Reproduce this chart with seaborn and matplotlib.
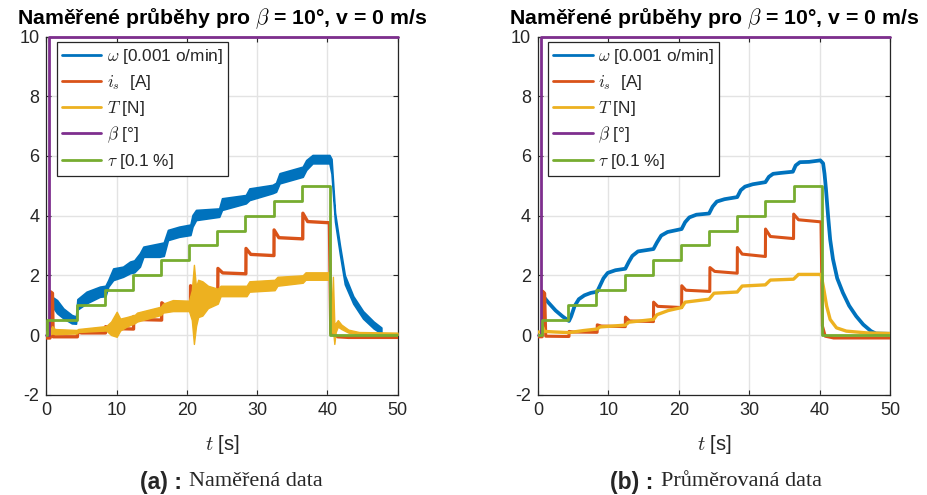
import matplotlib
matplotlib.use("Agg")
import matplotlib.pyplot as plt
from matplotlib.lines import Line2D
import seaborn as sns
import numpy as np

# ---------------- data ----------------
# tau (green) step levels and step times
tau_levels = [0, 0.5, 1.0, 1.5, 2.0, 2.5, 3.0, 3.5, 4.0, 4.5, 5.0, 0, 0]
tau_t_a = [0, 0.05, 4.3, 8.3, 12.3, 16.3, 20.3, 24.3, 28.3, 32.4, 36.4, 40.4, 50]
tau_t_b = [0, 0.5, 4.3, 8.3, 12.3, 16.3, 20.3, 24.3, 28.3, 32.3, 36.3, 40.3, 50]

# beta (purple)
beta_t_a = [0, 0.35, 0.35, 50]
beta_t_b = [0, 0.45, 0.45, 50]
beta_v = [0, 0, 10, 10]

# omega (blue), panel (a): noisy band -> upper / lower envelope
w_t_a = [1.0, 1.5, 2.4, 3.6, 4.2, 4.4, 5.7, 7.6, 8.4, 8.8, 9.5, 10.9, 11.9, 12.5, 13.3,
         13.8, 16.1, 16.7, 17.3, 18.9, 20.5, 20.8, 21.3, 24.6, 25.0, 28.4, 28.9, 32.2,
         32.7, 33.2, 36.5, 37.0, 37.9, 40.3, 40.6, 41.1, 41.8, 42.5, 43.7, 45.1, 46.6, 47.7]
w_hi_a = [1.25, 1.17, 0.89, 0.67, 0.62, 1.2, 1.45, 1.62, 1.65, 1.84, 2.23, 2.29, 2.46, 2.5,
          2.74, 2.96, 3.07, 3.1, 3.52, 3.63, 3.7, 4.02, 4.19, 4.24, 4.58, 4.69, 4.91, 5.03,
          5.1, 5.42, 5.64, 5.86, 6.03, 6.03, 5.9, 4.1, 3.0, 2.0, 1.3, 0.8, 0.45, 0.25]
w_lo_a = [0.9, 0.73, 0.56, 0.39, 0.38, 0.85, 1.06, 1.28, 1.3, 1.62, 1.84, 1.95, 2.07, 2.1,
          2.29, 2.62, 2.62, 2.65, 3.18, 3.29, 3.35, 3.63, 3.85, 3.96, 4.19, 4.41, 4.52, 4.75,
          4.8, 5.08, 5.3, 5.53, 5.75, 5.75, 5.4, 3.8, 2.7, 1.7, 1.05, 0.55, 0.22, 0.05]

# omega (blue), panel (b): averaged
w_t_b = [0.9, 1.5, 2.5, 3.5, 4.4, 4.7, 5.2, 5.8, 6.6, 7.5, 8.4, 8.8, 9.3, 9.9, 11.0, 12.4,
         12.9, 13.4, 14.2, 16.4, 16.9, 17.5, 18.4, 20.4, 20.9, 21.5, 22.5, 24.3, 24.8, 25.4,
         26.5, 28.3, 28.8, 29.4, 30.5, 32.3, 32.8, 33.4, 34.5, 36.2, 36.6, 37.2, 38.5, 40.1,
         40.5, 40.7, 40.9, 41.2, 41.5, 41.9, 42.5, 43.3, 44.2, 45.2, 46.2, 47.3, 48.0, 50.0]
w_v_b = [1.25, 1.08, 0.82, 0.62, 0.47, 0.62, 0.97, 1.2, 1.33, 1.41, 1.45, 1.65, 1.9, 2.08,
         2.17, 2.22, 2.45, 2.65, 2.8, 2.88, 3.1, 3.33, 3.45, 3.55, 3.78, 3.94, 4.03, 4.07,
         4.3, 4.47, 4.55, 4.62, 4.85, 4.97, 5.05, 5.12, 5.3, 5.4, 5.43, 5.47, 5.68, 5.79,
         5.8, 5.85, 5.75, 5.4, 4.9, 4.0, 3.2, 2.54, 1.9, 1.42, 0.98, 0.63, 0.35, 0.13, 0.05,
         0.04]

# i_s (red)
is_t_a = [0, 0.5, 0.55, 0.85, 0.95, 4.4, 4.42, 5.0, 8.4, 8.42, 9.0, 12.4, 12.42, 13.0, 16.4,
          16.42, 17.0, 20.5, 20.52, 21.1, 24.4, 24.42, 25.1, 28.4, 28.42, 29.1, 32.4, 32.42,
          33.1, 36.5, 36.52, 37.2, 40.3, 40.5, 41.5, 43.0, 50.0]
is_v_a = [-0.1, -0.1, 1.45, 1.4, -0.06, -0.06, 0.1, 0.07, 0.07, 0.28, 0.22, 0.2, 0.62, 0.52,
          0.5, 1.08, 0.97, 0.93, 1.65, 1.52, 1.48, 2.23, 2.08, 2.05, 2.9, 2.7, 2.66, 3.52,
          3.26, 3.22, 4.08, 3.8, 3.76, 0.06, -0.06, -0.08, -0.08]
is_t_b = [0, 0.6, 0.65, 0.95, 1.1, 4.4, 4.42, 5.0, 8.4, 8.42, 9.0, 12.4, 12.42, 13.0, 16.4,
          16.42, 17.0, 20.4, 20.42, 21.0, 24.4, 24.42, 25.1, 28.3, 28.32, 29.0, 32.3, 32.32,
          33.0, 36.3, 36.32, 37.0, 40.2, 40.4, 40.8, 42.0, 50.0]
is_v_b = [-0.06, -0.06, 1.47, 1.4, -0.04, -0.05, 0.12, 0.1, 0.09, 0.34, 0.3, 0.28, 0.6, 0.47,
          0.45, 1.1, 0.96, 0.92, 1.65, 1.5, 1.46, 2.26, 2.13, 2.07, 2.93, 2.71, 2.63, 3.55,
          3.3, 3.23, 4.05, 3.86, 3.79, 0.3, -0.04, -0.1, -0.1]

# T (yellow), panel (a): noisy band
T_t_a = [0.0, 0.5, 0.8, 1.2, 4.3, 4.5, 8.5, 9.2, 10.0, 10.5, 11.4, 12.6, 12.9, 16.3, 16.6,
         18.0, 20.3, 20.7, 21.0, 21.3, 21.6, 22.2, 23.0, 24.4, 24.8, 28.5, 28.9, 32.5, 32.9,
         36.5, 36.9, 40.3, 40.5, 40.8, 41.0, 41.2, 41.5, 42.0, 43.0, 44.5, 50.0]
T_hi_a = [0.12, 0.15, 0.3, 0.2, 0.17, 0.2, 0.3, 0.45, 0.78, 0.55, 0.6, 0.68, 0.75, 0.95, 1.05,
          1.17, 1.15, 1.5, 2.35, 1.6, 1.85, 1.8, 1.65, 1.55, 1.65, 1.65, 1.8, 1.85, 1.95,
          2.0, 2.1, 2.1, 0.3, 1.95, 0.4, 0.4, 0.5, 0.35, 0.18, 0.1, 0.08]
T_lo_a = [0.02, 0.02, 0.05, 0.03, 0.05, 0.1, 0.15, 0.0, -0.06, 0.15, 0.28, 0.4, 0.45, 0.67,
          0.75, 0.8, 0.8, 0.5, -0.3, 0.3, 0.6, 0.65, 0.9, 1.05, 1.3, 1.3, 1.45, 1.5, 1.65,
          1.75, 1.85, 1.85, 0.0, 0.2, -0.3, 0.1, 0.28, 0.2, 0.08, 0.02, 0.0]

# T (yellow), panel (b)
T_t_b = [0, 0.5, 0.7, 0.9, 2.5, 4.4, 6.5, 8.4, 8.8, 12.4, 12.9, 16.4, 16.9, 18.5, 20.4, 20.9,
         24.3, 25.0, 28.3, 29.0, 32.3, 33.0, 36.3, 37.0, 40.2, 40.6, 41.0, 41.5, 42.4, 43.8,
         46.7, 50.0]
T_v_b = [0.1, 0.1, 0.25, 0.12, 0.1, 0.08, 0.15, 0.2, 0.27, 0.33, 0.43, 0.52, 0.68, 0.82,
         0.92, 1.1, 1.2, 1.4, 1.44, 1.64, 1.68, 1.84, 1.87, 2.03, 2.03, 1.53, 0.97, 0.52,
         0.24, 0.13, 0.07, 0.05]

legend_labels = [r'$\omega$ [0.001 o/min]', r'$i_s$  [A]', r'$T$ [N]',
                 r'$\beta$ [°]', r'$\tau$ [0.1 %]']
title_text = r'Naměřené průběhy pro $\beta$ = 10°, v = 0 m/s'
xlabel_text = r'$t$ [s]'
sub_tags = ['(a) :', '(b) :']
sub_texts = ['Naměřená data', 'Průměrovaná data']
x_ticks = [0, 10, 20, 30, 40, 50]
y_ticks = [-2, 0, 2, 4, 6, 8, 10]

# ---------------- style ----------------
sns.set_theme(style='white')
plt.rcParams['font.family'] = ['Liberation Sans', 'DejaVu Sans']
plt.rcParams['mathtext.fontset'] = 'cm'

C_W = '#0072BD'
C_I = '#D95319'
C_T = '#EDB120'
C_B = '#7E2F8E'
C_G = '#77AC30'

fig = plt.figure(figsize=(9.28, 4.95), dpi=100)
W, H = 928.0, 495.0
ax1 = fig.add_axes([46.5 / W, 100.3 / H, 351 / W, 358.2 / H])
ax2 = fig.add_axes([538 / W, 100.3 / H, 352 / W, 358.2 / H])

LW = 2.0

# panel (a)
ax1.fill_between(w_t_a, w_lo_a, w_hi_a, color=C_W, lw=1.2, edgecolor=C_W, zorder=2)
sns.lineplot(x=is_t_a, y=is_v_a, ax=ax1, color=C_I, lw=2.4, estimator=None, sort=False, zorder=3)
ax1.fill_between(T_t_a, T_lo_a, T_hi_a, color=C_T, lw=1.0, edgecolor=C_T, zorder=4)
sns.lineplot(x=beta_t_a, y=beta_v, ax=ax1, color=C_B, lw=LW, estimator=None, sort=False,
             zorder=5, clip_on=False)
sns.lineplot(x=tau_t_a, y=tau_levels, ax=ax1, color=C_G, lw=LW, estimator=None, sort=False,
             drawstyle='steps-post', zorder=6)

# panel (b)
sns.lineplot(x=w_t_b, y=w_v_b, ax=ax2, color=C_W, lw=2.7, estimator=None, sort=False, zorder=2)
sns.lineplot(x=is_t_b, y=is_v_b, ax=ax2, color=C_I, lw=2.2, estimator=None, sort=False, zorder=3)
sns.lineplot(x=T_t_b, y=T_v_b, ax=ax2, color=C_T, lw=2.4, estimator=None, sort=False, zorder=4)
sns.lineplot(x=beta_t_b, y=beta_v, ax=ax2, color=C_B, lw=LW, estimator=None, sort=False,
             zorder=5, clip_on=False)
sns.lineplot(x=tau_t_b, y=tau_levels, ax=ax2, color=C_G, lw=LW, estimator=None, sort=False,
             drawstyle='steps-post', zorder=6)

handles = [Line2D([], [], color=c, lw=2.0) for c in (C_W, C_I, C_T, C_B, C_G)]

for ax in (ax1, ax2):
    ax.set_xlim(0, 50)
    ax.set_ylim(-2, 10)
    ax.set_xticks(x_ticks)
    ax.set_yticks(y_ticks)
    ax.set_xticklabels([str(v) for v in x_ticks])
    ax.set_yticklabels([str(v) for v in y_ticks])
    ax.grid(True, color='#e3e3e3', lw=1.0, zorder=0)
    ax.set_axisbelow(True)
    for s in ax.spines.values():
        s.set_visible(True)
        s.set_color('#262626')
        s.set_linewidth(0.9)
    ax.tick_params(direction='in', length=3.5, width=0.8, color='#262626',
                   labelsize=13, pad=5, top=True, right=True, bottom=True, left=True,
                   labelcolor='#262626')
    ax.set_xlabel(xlabel_text, fontsize=14.5, labelpad=10, color='#262626')
    ax.set_ylabel('')
    ax.set_title(title_text, fontsize=15.3, fontweight='bold', pad=8.8, color='black')
    leg = ax.legend(handles, legend_labels, loc='upper left', bbox_to_anchor=(0.029, 0.985),
                    borderaxespad=0, fontsize=12.4, frameon=True, fancybox=False,
                    edgecolor='#262626', framealpha=1, handlelength=2.3,
                    handletextpad=0.3, labelspacing=0.4, borderpad=0.3)
    leg.get_frame().set_linewidth(0.9)
    leg.set_zorder(10)

# sub-captions: bold tag + serif text, centred together under each panel
ycap = 1 - 482 / H
renderer = fig.canvas.get_renderer()
for xc, tag, txt in ((231, sub_tags[0], sub_texts[0]), (716, sub_tags[1], sub_texts[1])):
    t1 = fig.text(0, ycap, tag, ha='left', va='center', fontsize=16.5, fontweight='bold',
                  family=['Liberation Sans', 'DejaVu Sans'])
    t2 = fig.text(0, ycap, txt, ha='left', va='center', fontsize=16,
                  family=['Liberation Serif', 'DejaVu Serif'])
    w1 = t1.get_window_extent(renderer).width
    w2 = t2.get_window_extent(renderer).width
    gap = 7
    x0 = xc - (w1 + gap + w2) / 2
    t1.set_x(x0 / W)
    t2.set_x((x0 + w1 + gap) / W)

fig.savefig('out.png', dpi=100, facecolor='white')
